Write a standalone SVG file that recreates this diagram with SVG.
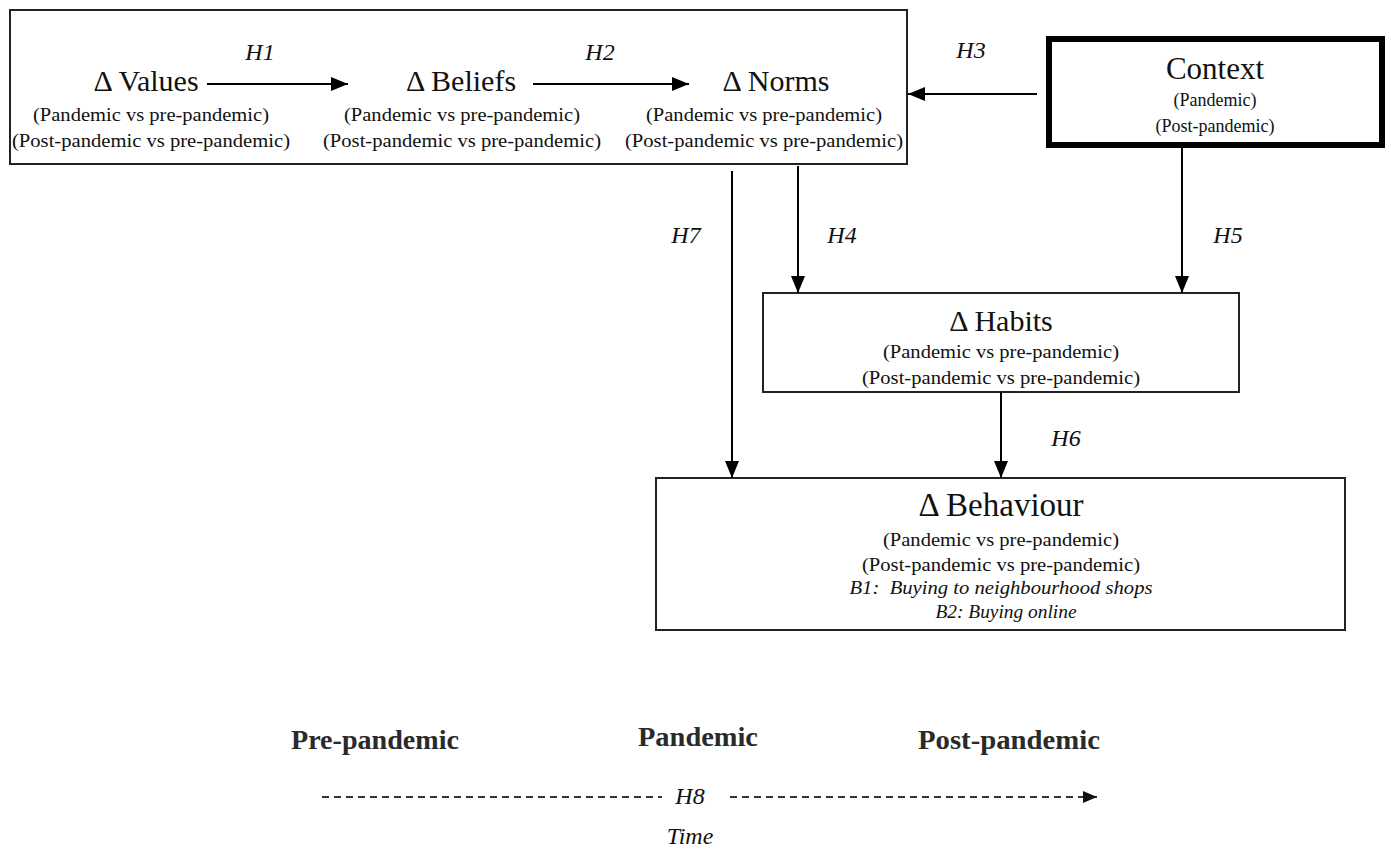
<svg xmlns="http://www.w3.org/2000/svg" width="1391" height="849" viewBox="0 0 1391 849" font-family="Liberation Serif, Times New Roman, serif">
<defs>
<marker id="ah" viewBox="0 0 17 14" refX="17" refY="7" markerWidth="17" markerHeight="14" markerUnits="userSpaceOnUse" orient="auto">
<path d="M0,0 L17,7 L0,14 Z" fill="#000"/>
</marker>
<marker id="ahs" viewBox="0 0 14 12" refX="14" refY="6" markerWidth="14" markerHeight="12" markerUnits="userSpaceOnUse" orient="auto">
<path d="M0,0 L14,6 L0,12 Z" fill="#111"/>
</marker>
</defs>
<style>
.box{fill:#fff;stroke:#222;stroke-width:2}
.ctx{fill:#fff;stroke:#000;stroke-width:6}
.t{fill:#111;text-anchor:middle}
.big{font-size:30px}
.sub{font-size:19px}
.h{font-style:italic;font-size:24px;fill:#111;text-anchor:middle}
.it{font-style:italic;font-size:18px;fill:#111;text-anchor:middle}
.tl{font-weight:bold;font-size:27px;fill:#2a2a2a;text-anchor:middle}
.c{stroke:#000;stroke-width:2;fill:none}
</style>
<rect width="1391" height="849" fill="#fff"/>

<g id="top-box">
<rect class="box" x="10" y="10" width="897" height="154"/>
</g>
<g id="values">
<text class="t big" x="146" y="91">Δ Values</text>
<text class="t sub" x="151" y="121" textLength="236" lengthAdjust="spacingAndGlyphs">(Pandemic vs pre-pandemic)</text>
<text class="t sub" x="151" y="147" textLength="278" lengthAdjust="spacingAndGlyphs">(Post-pandemic vs pre-pandemic)</text>
</g>
<g id="beliefs">
<text class="t big" x="461" y="91">Δ Beliefs</text>
<text class="t sub" x="462" y="121" textLength="236" lengthAdjust="spacingAndGlyphs">(Pandemic vs pre-pandemic)</text>
<text class="t sub" x="462" y="147" textLength="278" lengthAdjust="spacingAndGlyphs">(Post-pandemic vs pre-pandemic)</text>
</g>
<g id="norms">
<text class="t big" x="776" y="91">Δ Norms</text>
<text class="t sub" x="764" y="121" textLength="236" lengthAdjust="spacingAndGlyphs">(Pandemic vs pre-pandemic)</text>
<text class="t sub" x="764" y="147" textLength="278" lengthAdjust="spacingAndGlyphs">(Post-pandemic vs pre-pandemic)</text>
</g>
<g id="context">
<rect class="ctx" x="1049" y="39" width="333" height="106"/>
<text class="t" x="1215" y="79" font-size="31">Context</text>
<text class="t" x="1215" y="106" font-size="18">(Pandemic)</text>
<text class="t" x="1215" y="132" font-size="18">(Post-pandemic)</text>
</g>
<g id="habits">
<rect class="box" x="763" y="293" width="476" height="99"/>
<text class="t big" x="1001" y="331">Δ Habits</text>
<text class="t sub" x="1001" y="358" textLength="236" lengthAdjust="spacingAndGlyphs">(Pandemic vs pre-pandemic)</text>
<text class="t sub" x="1001" y="384" textLength="278" lengthAdjust="spacingAndGlyphs">(Post-pandemic vs pre-pandemic)</text>
</g>
<g id="behaviour">
<rect class="box" x="656" y="478" width="689" height="152"/>
<text class="t" x="1001" y="516" font-size="33">Δ Behaviour</text>
<text class="t sub" x="1001" y="546" textLength="236" lengthAdjust="spacingAndGlyphs">(Pandemic vs pre-pandemic)</text>
<text class="t sub" x="1001" y="571" textLength="278" lengthAdjust="spacingAndGlyphs">(Post-pandemic vs pre-pandemic)</text>
<text class="it" x="1001" y="594" xml:space="preserve" textLength="303" lengthAdjust="spacingAndGlyphs">B1:  Buying to neighbourhood shops</text>
<text class="it" x="1006" y="618" textLength="141" lengthAdjust="spacingAndGlyphs">B2: Buying online</text>
</g>
<g id="timeline">
<text class="tl" x="375" y="749" textLength="168" lengthAdjust="spacingAndGlyphs">Pre-pandemic</text>
<text class="tl" x="698" y="746" textLength="120" lengthAdjust="spacingAndGlyphs">Pandemic</text>
<text class="tl" x="1009" y="749" textLength="182" lengthAdjust="spacingAndGlyphs">Post-pandemic</text>
<text class="h" x="690" y="804" font-size="22">H8</text>
<text class="h" x="690" y="844" font-size="20">Time</text>
</g>
<g id="connectors">
<line class="c" x1="207" y1="84" x2="348" y2="84" marker-end="url(#ah)"/>
<line class="c" x1="533" y1="84" x2="689" y2="84" marker-end="url(#ah)"/>
<line class="c" x1="1037" y1="94" x2="908" y2="94" marker-end="url(#ah)"/>
<line class="c" x1="798" y1="166" x2="798" y2="293" marker-end="url(#ah)"/>
<line class="c" x1="1182" y1="147" x2="1182" y2="293" marker-end="url(#ah)"/>
<line class="c" x1="732" y1="171" x2="732" y2="478" marker-end="url(#ah)"/>
<line class="c" x1="1001" y1="392" x2="1001" y2="478" marker-end="url(#ah)"/>
<line x1="322" y1="797" x2="662" y2="797" stroke="#333" stroke-width="2" stroke-dasharray="7,5"/>
<line x1="730" y1="797" x2="1097" y2="797" stroke="#333" stroke-width="2" stroke-dasharray="7,5" marker-end="url(#ahs)"/>
<text class="h" x="260" y="60">H1</text>
<text class="h" x="600" y="60">H2</text>
<text class="h" x="971" y="58">H3</text>
<text class="h" x="686" y="243">H7</text>
<text class="h" x="842" y="243">H4</text>
<text class="h" x="1228" y="243">H5</text>
<text class="h" x="1066" y="446">H6</text>
</g>
</svg>
